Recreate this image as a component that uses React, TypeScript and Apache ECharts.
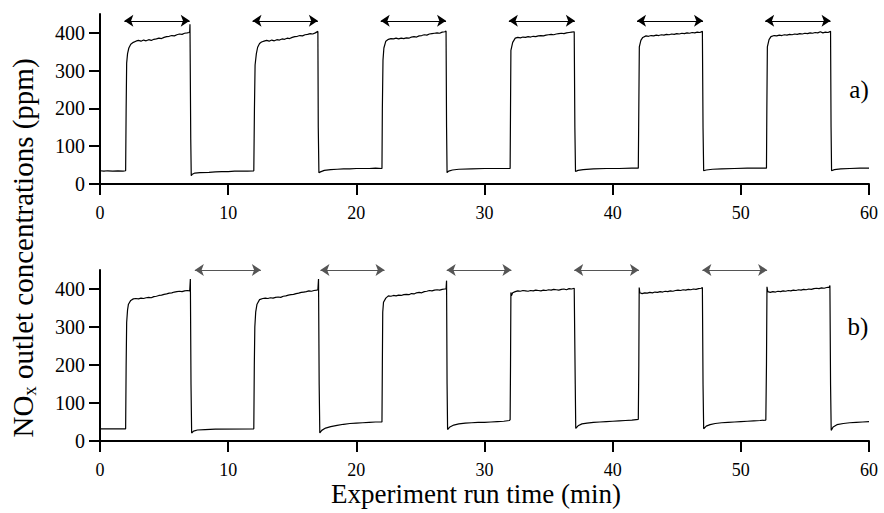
import React, { useEffect, useRef } from "react";
import * as echarts from "echarts";

const FONT = "Liberation Serif, Times New Roman, serif";

// Panel a) NOx outlet concentration (ppm) vs time (min)
const seriesA: number[][] = [
  [0, 35], [0.3, 34], [0.6, 35], [1.0, 34], [1.4, 35], [1.8, 34], [2.0, 35],
  [2.04, 200], [2.08, 320], [2.15, 345], [2.25, 360], [2.4, 370], [2.6, 375], [2.8, 378], [3.0, 380],
  [3.2, 378], [3.4, 381], [3.6, 379], [3.8, 382], [4.0, 380], [4.2, 383], [4.4, 384], [4.6, 386],
  [4.8, 385], [5.0, 388], [5.2, 390], [5.4, 391], [5.6, 393], [5.8, 392], [6.0, 395], [6.2, 397],
  [6.4, 396], [6.6, 399], [6.8, 400], [6.95, 401], [7.0, 403], [7.02, 423], [7.08, 120], [7.12, 22],
  [7.2, 26], [7.4, 29], [7.8, 30], [8.5, 31], [9.0, 32], [9.5, 33], [10.0, 33], [10.5, 34], [11.0, 34],
  [11.5, 34], [12.0, 35],
  [12.05, 200], [12.1, 315], [12.2, 345], [12.3, 362], [12.45, 372], [12.6, 376], [12.8, 378], [13.0, 380],
  [13.2, 378], [13.4, 381], [13.6, 379], [13.8, 382], [14.0, 381], [14.2, 384], [14.4, 383], [14.6, 386],
  [14.8, 385], [15.0, 388], [15.2, 390], [15.4, 391], [15.6, 393], [15.8, 392], [16.0, 395], [16.2, 396],
  [16.4, 398], [16.6, 397], [16.8, 400], [17.0, 404], [17.03, 150], [17.08, 30], [17.2, 32], [17.5, 36],
  [18.0, 38], [18.5, 39], [19.0, 40], [19.5, 40], [20.0, 41], [20.5, 41], [21.0, 41], [21.5, 42], [22.0, 41],
  [22.03, 200], [22.08, 328], [22.15, 360], [22.3, 378], [22.5, 383], [22.7, 385], [22.9, 384], [23.1, 386],
  [23.3, 384], [23.5, 386], [23.7, 385], [23.9, 387], [24.1, 386], [24.3, 389], [24.5, 390], [24.7, 389],
  [24.9, 392], [25.1, 393], [25.3, 395], [25.5, 394], [25.7, 397], [25.9, 398], [26.1, 399], [26.3, 400],
  [26.5, 399], [26.7, 402], [26.9, 403], [27.0, 405], [27.04, 150], [27.08, 30], [27.2, 34], [27.5, 37],
  [28.0, 39], [29.0, 40], [30.0, 41], [31.0, 41], [32.0, 41],
  [32.03, 200], [32.06, 354], [32.2, 375], [32.4, 386], [32.6, 388], [32.8, 387], [33.0, 389], [33.2, 388],
  [33.4, 390], [33.6, 389], [33.8, 391], [34.0, 390], [34.2, 392], [34.4, 393], [34.6, 392], [34.8, 394],
  [35.0, 395], [35.2, 396], [35.4, 395], [35.6, 397], [35.8, 398], [36.0, 399], [36.2, 398], [36.4, 400],
  [36.6, 401], [36.8, 402], [37.0, 403], [37.05, 150], [37.1, 33], [37.3, 36], [37.7, 38], [38.5, 40],
  [39.5, 41], [40.5, 41], [41.5, 42], [42.0, 42],
  [42.04, 200], [42.08, 363], [42.2, 380], [42.35, 388], [42.6, 392], [42.8, 391], [43.0, 393], [43.2, 392],
  [43.4, 394], [43.6, 393], [43.8, 395], [44.0, 394], [44.2, 396], [44.4, 395], [44.6, 397], [44.8, 396],
  [45.0, 398], [45.2, 397], [45.4, 399], [45.6, 398], [45.8, 400], [46.0, 399], [46.2, 401], [46.4, 400],
  [46.6, 402], [46.8, 401], [47.0, 404], [47.05, 150], [47.1, 35], [47.3, 37], [47.8, 39], [48.5, 40],
  [49.5, 41], [50.5, 42], [51.5, 42], [52.0, 42],
  [52.03, 200], [52.07, 363], [52.2, 382], [52.35, 390], [52.6, 393], [52.8, 392], [53.0, 394], [53.2, 393],
  [53.4, 395], [53.6, 394], [53.8, 396], [54.0, 395], [54.2, 397], [54.4, 396], [54.6, 398], [54.8, 397],
  [55.0, 399], [55.2, 398], [55.4, 400], [55.6, 399], [55.8, 401], [56.0, 400], [56.2, 403], [56.4, 400],
  [56.6, 402], [56.8, 401], [57.0, 404], [57.04, 150], [57.08, 35], [57.3, 38], [57.8, 40], [58.5, 41],
  [59.3, 42], [60.0, 42],
];

// Panel b)
const seriesB: number[][] = [
  [0, 32], [2.0, 32],
  [2.04, 200], [2.08, 312], [2.15, 345], [2.22, 360], [2.4, 370], [2.6, 374], [2.8, 375], [3.0, 374],
  [3.2, 376], [3.4, 375], [3.6, 377], [3.8, 378], [4.0, 377], [4.2, 380], [4.4, 381], [4.6, 383],
  [4.8, 384], [5.0, 386], [5.2, 387], [5.4, 389], [5.6, 390], [5.8, 392], [6.0, 393], [6.2, 394],
  [6.4, 393], [6.6, 395], [6.8, 396], [7.0, 395], [7.05, 426], [7.1, 150], [7.15, 21], [7.3, 26],
  [7.6, 29], [8.2, 30], [9.0, 31], [12.0, 32],
  [12.04, 200], [12.08, 300], [12.15, 340], [12.25, 360], [12.45, 372], [12.7, 375], [12.9, 376], [13.1, 375],
  [13.3, 377], [13.5, 376], [13.7, 378], [13.9, 379], [14.1, 378], [14.3, 381], [14.5, 382], [14.7, 384],
  [14.9, 385], [15.1, 386], [15.3, 388], [15.5, 389], [15.7, 391], [15.9, 392], [16.1, 393], [16.3, 395],
  [16.5, 394], [16.7, 396], [16.9, 397], [17.0, 398], [17.05, 426], [17.1, 150], [17.15, 21], [17.3, 28],
  [17.6, 34], [18.0, 38], [18.5, 41], [19.0, 44], [19.5, 46], [20.0, 47], [20.5, 48], [21.0, 49],
  [21.5, 50], [22.0, 50],
  [22.03, 200], [22.06, 339], [22.12, 365], [22.3, 376], [22.5, 382], [22.7, 381], [22.9, 383], [23.1, 382],
  [23.3, 384], [23.5, 383], [23.7, 385], [23.9, 386], [24.1, 385], [24.3, 388], [24.5, 387], [24.7, 390],
  [24.9, 391], [25.1, 390], [25.3, 393], [25.5, 394], [25.7, 396], [25.9, 395], [26.1, 397], [26.3, 398],
  [26.5, 397], [26.7, 399], [26.9, 400], [27.0, 400], [27.04, 422], [27.08, 150], [27.12, 30], [27.3, 37],
  [27.6, 42], [28.0, 45], [28.5, 47], [29.0, 48], [29.5, 49], [30.0, 49], [30.5, 50], [31.0, 51],
  [31.5, 52], [31.95, 54],
  [32.0, 56], [32.03, 200], [32.06, 391], [32.1, 382], [32.2, 390], [32.4, 393], [32.6, 395], [32.8, 394],
  [33.0, 396], [33.2, 395], [33.4, 394], [33.6, 396], [33.8, 395], [34.0, 397], [34.2, 396], [34.4, 395],
  [34.6, 397], [34.8, 396], [35.0, 398], [35.2, 397], [35.4, 399], [35.6, 398], [35.8, 397], [36.0, 399],
  [36.2, 400], [36.4, 398], [36.6, 401], [36.8, 400], [37.0, 402], [37.04, 403], [37.08, 150], [37.12, 33],
  [37.3, 40], [37.6, 45], [38.0, 47], [38.5, 49], [39.0, 50], [39.5, 51], [40.0, 52], [40.5, 53],
  [41.0, 54], [41.5, 55], [42.0, 57],
  [42.04, 200], [42.07, 404], [42.12, 390], [42.3, 388], [42.5, 390], [42.7, 389], [42.9, 391], [43.1, 390],
  [43.3, 392], [43.5, 391], [43.7, 393], [43.9, 392], [44.1, 394], [44.3, 393], [44.5, 395], [44.7, 394],
  [44.9, 396], [45.1, 397], [45.3, 396], [45.5, 398], [45.7, 397], [45.9, 399], [46.1, 398], [46.3, 400],
  [46.5, 399], [46.7, 401], [46.9, 402], [47.0, 404], [47.05, 150], [47.1, 32], [47.3, 39], [47.6, 43],
  [48.0, 46], [48.5, 48], [49.0, 49], [49.5, 50], [50.0, 51], [50.5, 52], [51.0, 53], [51.5, 54],
  [51.95, 55],
  [52.0, 200], [52.04, 406], [52.1, 393], [52.3, 391], [52.5, 393], [52.7, 392], [52.9, 394], [53.1, 393],
  [53.3, 395], [53.5, 394], [53.7, 396], [53.9, 395], [54.1, 397], [54.3, 396], [54.5, 398], [54.7, 397],
  [54.9, 399], [55.1, 398], [55.3, 400], [55.5, 399], [55.7, 401], [55.9, 402], [56.1, 401], [56.3, 403],
  [56.5, 402], [56.7, 404], [56.9, 405], [56.95, 409], [57.0, 150], [57.05, 28], [57.2, 37], [57.5, 43],
  [58.0, 46], [58.5, 48], [59.0, 49], [59.5, 50], [60.0, 51],
];

// Double-headed arrows marking the 5-minute intervals
const arrowsA: number[][] = [[1.9, 7.0], [11.9, 17.0], [21.9, 27.0], [31.9, 37.05], [41.9, 47.05], [51.9, 57.0]];
const arrowsB: number[][] = [[7.4, 12.55], [17.2, 22.2], [27.05, 32.1], [37.0, 42.05], [47.0, 52.05]];
const arrowYA = 432;
const arrowYB = 450;

const yTicks = [0, 100, 200, 300, 400];

function makeAxes(gridIndex: number) {
  const x = {
    type: "value",
    gridIndex,
    min: 0,
    max: 60,
    interval: 10,
    axisLine: { lineStyle: { color: "#000", width: 2 } },
    axisTick: { length: 11, lineStyle: { color: "#000", width: 2 } },
    axisLabel: {
      margin: 20,
      color: "#000",
      formatter: (v: number) => `{t|${v}}`,
      rich: { t: { fontFamily: FONT, fontSize: 18, color: "#000" } },
    },
    splitLine: { show: false },
  };
  const y = {
    type: "value",
    gridIndex,
    min: 0,
    max: 450,
    interval: 50,
    axisLine: { show: true, lineStyle: { color: "#000", width: 2 } },
    axisTick: { show: true, length: 11, customValues: yTicks, lineStyle: { color: "#000", width: 2 } },
    axisLabel: {
      margin: 15,
      color: "#000",
      customValues: yTicks,
      formatter: (v: number) => `{t|${v}}`,
      rich: { t: { fontFamily: FONT, fontSize: 20, color: "#000" } },
    },
    splitLine: { show: false },
  };
  return { x, y };
}

function arrowMarks(list: number[][], y: number, color: string, width: number) {
  return {
    silent: true,
    symbol: ["arrow", "arrow"],
    symbolSize: 9,
    label: { show: false },
    emphasis: { disabled: true },
    lineStyle: { color, width, type: "solid" },
    itemStyle: { color: "#000" },
    data: list.map(([s, e]) => [{ coord: [s, y] }, { coord: [e, y] }]),
  };
}

export default function App() {
  const ref = useRef<HTMLDivElement>(null);
  useEffect(() => {
    document.body.style.margin = "0";
    if (!ref.current) return;
    const chart = echarts.init(ref.current, null, { renderer: "svg" });
    const a = makeAxes(0);
    const b = makeAxes(1);
    chart.setOption({
      animation: false,
      backgroundColor: "#fff",
      textStyle: { fontFamily: FONT },
      grid: [
        { left: 100, right: 15, top: 14, height: 170 },
        { left: 100, right: 15, top: 270, height: 171 },
      ],
      xAxis: [a.x, b.x],
      yAxis: [a.y, b.y],
      series: [
        {
          type: "line",
          xAxisIndex: 0,
          yAxisIndex: 0,
          data: seriesA,
          showSymbol: false,
          clip: false,
          lineStyle: { color: "#000", width: 1.2 },
          markLine: arrowMarks(arrowsA, arrowYA, "#000", 1.2),
        },
        {
          type: "line",
          xAxisIndex: 1,
          yAxisIndex: 1,
          data: seriesB,
          showSymbol: false,
          clip: false,
          lineStyle: { color: "#000", width: 1.2 },
          markLine: arrowMarks(arrowsB, arrowYB, "#555", 1),
        },
      ],
      graphic: [
        {
          type: "text",
          x: 23,
          y: 248,
          rotation: Math.PI / 2,
          style: {
            text: "{a|NO}{s|x}{a| outlet concentrations (ppm)}",
            align: "center",
            verticalAlign: "middle",
            fill: "#000",
            rich: {
              a: { fontSize: 29, fontFamily: FONT, lineHeight: 32, verticalAlign: "middle", fill: "#000" },
              s: { fontSize: 19, fontFamily: FONT, lineHeight: 14, verticalAlign: "bottom", fill: "#000" },
            },
          },
        },
        {
          type: "text",
          x: 476,
          y: 494,
          style: { text: "Experiment run time (min)", font: `27px ${FONT}`, align: "center", verticalAlign: "middle", fill: "#000" },
        },
        {
          type: "text",
          x: 859,
          y: 89,
          style: { text: "a)", font: `25px ${FONT}`, align: "center", verticalAlign: "middle", fill: "#000" },
        },
        {
          type: "text",
          x: 858,
          y: 326,
          style: { text: "b)", font: `25px ${FONT}`, align: "center", verticalAlign: "middle", fill: "#000" },
        },
      ],
    });
    return () => chart.dispose();
  }, []);
  return <div ref={ref} style={{ width: 884, height: 513 }} />;
}
